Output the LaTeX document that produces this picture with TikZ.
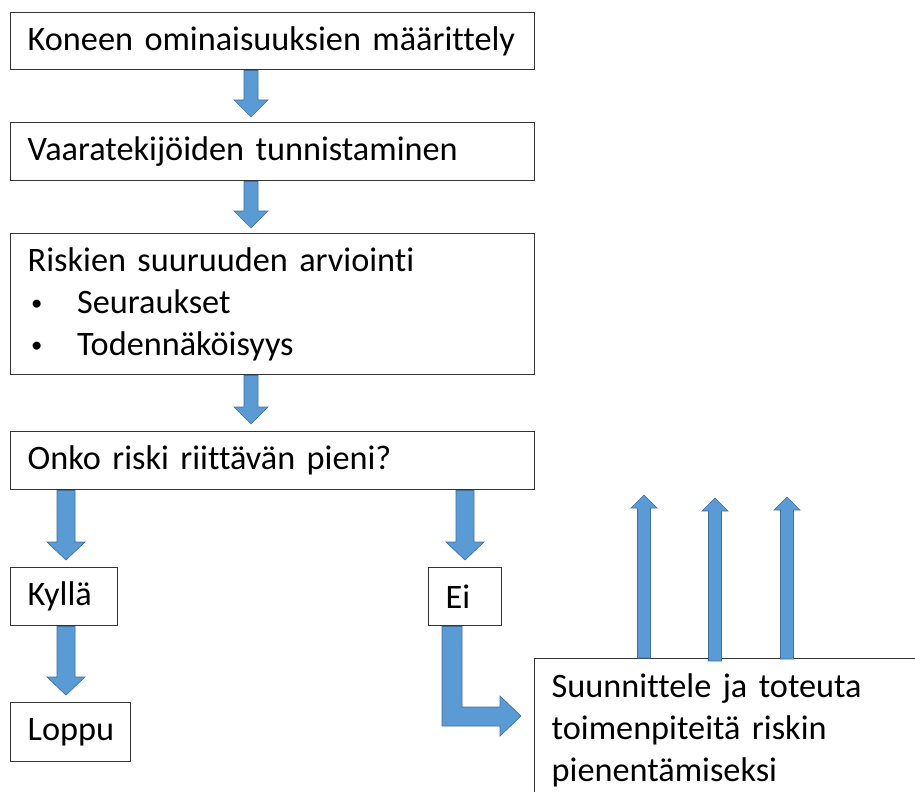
\documentclass[tikz,border=0pt]{standalone}
\usepackage{fontspec}
\setmainfont{Carlito}[Ligatures={NoCommon}]
\usetikzlibrary{calc}
\definecolor{arrowfill}{HTML}{5B9BD5}
\definecolor{arrowline}{HTML}{41719C}
\definecolor{boxline}{HTML}{333333}
% down block arrow: #1 start, #2 tip, #3 half shaft, #4 half head, #5 head length
\newcommand{\DnArrow}[5]{\filldraw[blk] ($(#1)+(-#3,0)$) -- ($(#2)+(-#3,-#5)$) -- ($(#2)+(-#4,-#5)$) -- (#2) -- ($(#2)+(#4,-#5)$) -- ($(#2)+(#3,-#5)$) -- ($(#1)+(#3,0)$) -- cycle;}
\newcommand{\UpArrow}[5]{\filldraw[blk] ($(#1)+(-#3,0)$) -- ($(#2)+(-#3,#5)$) -- ($(#2)+(-#4,#5)$) -- (#2) -- ($(#2)+(#4,#5)$) -- ($(#2)+(#3,#5)$) -- ($(#1)+(#3,0)$) -- cycle;}
\newcommand{\smallbul}{\makebox[37pt][l]{\hspace{2.5pt}\raisebox{2.5pt}{\fontsize{17pt}{17pt}\selectfont\textbullet}}}
\begin{document}
\begin{tikzpicture}[x=0.75pt,y=-0.75pt,
  box/.style={draw=boxline, line width=1.1pt, fill=white, anchor=north west, inner xsep=12.75pt, inner ysep=0pt, align=left, font=\fontsize{25.7pt}{31.5pt}\selectfont},
  blk/.style={fill=arrowfill, draw=arrowline, line width=0.5pt}]
\useasboundingbox (0,0) rectangle (915,792);
\fill[white] (0,0) rectangle (915,792);
\clip (0,0) rectangle (915,792);

\node[box, text width=367.5pt, minimum height=42.75pt] (b1) at (10,12) {Koneen ominaisuuksien määrittely};
\node[box, text width=367.5pt, minimum height=43.5pt] (b2) at (10,122) {Vaaratekijöiden tunnistaminen};
\node[box, text width=367.5pt, minimum height=105.75pt] (b3) at (10,233) {Riskien suuruuden arviointi\\\smallbul Seuraukset\\\smallbul Todennäköisyys};
\node[box, text width=367.5pt, minimum height=43.5pt] (b4) at (10,431) {Onko riski riittävän pieni?};
\node[box, text width=54.75pt, minimum height=43.5pt] (kyl) at (10,567) {Kyllä};
\node[box, text width=29.25pt, minimum height=43.5pt] (ei) at (428,567) {Ei};
\node[box, text width=64.5pt, minimum height=44.25pt] (lop) at (10,702) {Loppu};
\node[box, text width=275.25pt, minimum height=108pt] (sun) at (534,658) {Suunnittele ja toteuta\\toimenpiteitä riskin\\pienentämiseksi};

% straight down arrows
\coordinate (a1s) at ($(b1.south west)+(241,0)$);
\coordinate (a1e) at ($(b2.north west)+(241,-5)$);
\DnArrow{a1s}{a1e}{7}{17}{17}
\coordinate (a2s) at ($(b2.south west)+(241,0)$);
\coordinate (a2e) at ($(b3.north west)+(241,-5)$);
\DnArrow{a2s}{a2e}{7}{17}{17}
\coordinate (a3s) at ($(b3.south west)+(241,0)$);
\coordinate (a3e) at ($(b4.north west)+(241,-7)$);
\DnArrow{a3s}{a3e}{7}{17}{17}
\coordinate (a4s) at ($(b4.south west)+(56,0)$);
\coordinate (a4e) at ($(kyl.north west)+(56,-7)$);
\DnArrow{a4s}{a4e}{9}{19}{18}
\coordinate (a5s) at ($(b4.south west)+(455,0)$);
\coordinate (a5e) at ($(ei.north west)+(37,-7)$);
\DnArrow{a5s}{a5e}{9}{19}{18}
\coordinate (a6s) at ($(kyl.south west)+(56,0)$);
\coordinate (a6e) at ($(lop.north west)+(56,-7)$);
\DnArrow{a6s}{a6e}{9}{19}{18}

% bent arrow from Ei to the measures box
\coordinate (bs) at ($(ei.south west)+(24,0)$);
\coordinate (be) at ($(sun.north west)+(-13,58)$);
\filldraw[blk] ($(bs)+(-10,0)$) -- ($(bs |- be)+(-10,10)$) -- ($(be)+(-21,10)$) -- ($(be)+(-21,20)$) -- (be)
  -- ($(be)+(-21,-20)$) -- ($(be)+(-21,-9)$) -- ($(bs |- be)+(10,-9)$) -- ($(bs)+(10,0)$) -- cycle;

% up arrows
\coordinate (u1s) at ($(sun.north west)+(110,0)$);
\coordinate (u1e) at ($(sun.north west)+(110,-163)$);
\UpArrow{u1s}{u1e}{6.5}{13}{13}
\coordinate (u2s) at ($(sun.north west)+(181,3)$);
\coordinate (u2e) at ($(sun.north west)+(181,-160)$);
\UpArrow{u2s}{u2e}{6.5}{13}{13}
\coordinate (u3s) at ($(sun.north west)+(253,1)$);
\coordinate (u3e) at ($(sun.north west)+(253,-161)$);
\UpArrow{u3s}{u3e}{6.5}{13}{13}
\end{tikzpicture}
\end{document}
